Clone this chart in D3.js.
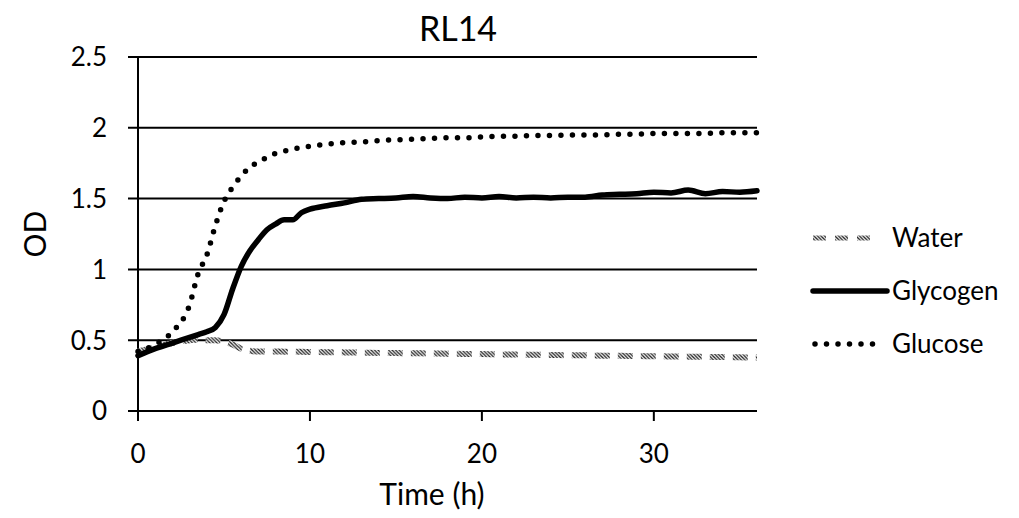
<!DOCTYPE html>
<meta charset="utf-8" />
<title>RL14</title>
<style>
  body { margin: 0; background: #fff; }
  svg { display: block; }
  text { font-family: Lato, "Open Sans", sans-serif; fill: #000; }
</style>
<body>
<svg width="1019" height="518"></svg>
<script src="https://d3js.org/d3.v7.min.js"></script>
<script>
  // sampling times (h)
  const hours = [0, 1, 2, 3, 3.5, 4, 4.5, 5, 5.5, 6, 6.5, 7, 7.5, 8, 8.5, 9, 9.5, 10,
    11, 12, 13, 14, 15, 16, 17, 18, 19, 20, 21, 22, 23, 24, 25, 26, 27, 28, 29, 30,
    31, 32, 33, 34, 35, 36];

  const water = [0.42, 0.45, 0.48, 0.50, 0.505, 0.50, 0.50, 0.49, 0.47, 0.44, 0.425, 0.42, 0.42, 0.42, 0.419, 0.418, 0.418, 0.417,
    0.415, 0.414, 0.412, 0.41, 0.409, 0.408, 0.406, 0.405, 0.403, 0.402, 0.40, 0.399, 0.397, 0.396, 0.394, 0.393, 0.391, 0.39, 0.388, 0.387,
    0.385, 0.384, 0.382, 0.381, 0.379, 0.378];

  const glycogen = [0.39, 0.44, 0.48, 0.52, 0.54, 0.56, 0.59, 0.68, 0.86, 1.02, 1.13, 1.21, 1.28, 1.32, 1.35, 1.35, 1.40, 1.425,
    1.45, 1.47, 1.495, 1.50, 1.505, 1.515, 1.505, 1.50, 1.51, 1.505, 1.515, 1.505, 1.51, 1.505, 1.51, 1.51, 1.525, 1.53, 1.535, 1.545,
    1.54, 1.56, 1.535, 1.55, 1.545, 1.555];

  const glucose = [0.42, 0.47, 0.56, 0.75, 0.97, 1.10, 1.31, 1.48, 1.58, 1.66, 1.72, 1.76, 1.79, 1.82, 1.835, 1.85, 1.86, 1.87,
    1.885, 1.895, 1.90, 1.91, 1.915, 1.92, 1.925, 1.93, 1.93, 1.935, 1.94, 1.94, 1.945, 1.945, 1.95, 1.95, 1.95, 1.955, 1.955, 1.96,
    1.96, 1.96, 1.96, 1.965, 1.965, 1.965];

  const seriesNames = ["Water", "Glycogen", "Glucose"];
  const yTicks = [0, 0.5, 1, 1.5, 2, 2.5];
  const xTicks = [0, 10, 20, 30];

  const svg = d3.select("svg");
  const margin = { left: 138, right: 262, top: 57, bottom: 107 };
  const W = 1019, H = 518;

  const x = d3.scaleLinear().domain([0, 36]).range([margin.left, W - margin.right]);
  const y = d3.scaleLinear().domain([0, 2.5]).range([H - margin.bottom, margin.top]);

  // hatch pattern for the water series
  const defs = svg.append("defs");
  const hatch = defs.append("pattern")
    .attr("id", "hatch")
    .attr("patternUnits", "userSpaceOnUse")
    .attr("width", 3.5).attr("height", 3.5);
  hatch.append("rect").attr("width", 3.5).attr("height", 3.5).attr("fill", "#fff");
  hatch.append("path")
    .attr("d", "M-1,-1L4.5,4.5M-1,2.5L1,4.5M2.5,-1L4.5,1")
    .attr("stroke", "#222").attr("stroke-width", 1.3);

  // gridlines
  svg.append("g")
    .selectAll("line")
    .data(yTicks)
    .join("line")
    .attr("x1", x(0) - 10).attr("x2", x(36))
    .attr("y1", d => y(d)).attr("y2", d => y(d))
    .attr("stroke", "#000").attr("stroke-width", 2);

  // y axis line
  svg.append("line")
    .attr("x1", x(0)).attr("x2", x(0))
    .attr("y1", y(2.5)).attr("y2", y(0) + 10)
    .attr("stroke", "#000").attr("stroke-width", 2);

  // x ticks
  svg.append("g")
    .selectAll("line")
    .data(xTicks)
    .join("line")
    .attr("x1", d => x(d)).attr("x2", d => x(d))
    .attr("y1", y(0)).attr("y2", y(0) + 10)
    .attr("stroke", "#000").attr("stroke-width", 2);

  svg.append("g")
    .selectAll("text")
    .data(yTicks)
    .join("text")
    .attr("x", x(0) - 31)
    .attr("y", d => y(d))
    .attr("dy", "0.36em")
    .attr("text-anchor", "end")
    .attr("font-size", 26)
    .text(d => d);

  svg.append("g")
    .selectAll("text")
    .data(xTicks)
    .join("text")
    .attr("x", d => x(d))
    .attr("y", y(0) + 52)
    .attr("text-anchor", "middle")
    .attr("font-size", 26)
    .text(d => d);

  // titles
  svg.append("text")
    .attr("x", 458).attr("y", 41)
    .attr("text-anchor", "middle")
    .attr("font-size", 34)
    .text("RL14");

  svg.append("text")
    .attr("x", 432).attr("y", 505)
    .attr("text-anchor", "middle")
    .attr("font-size", 30)
    .text("Time (h)");

  svg.append("text")
    .attr("transform", `translate(46,${(y(0) + y(2.5)) / 2}) rotate(-90)`)
    .attr("text-anchor", "middle")
    .attr("font-size", 30)
    .text("OD");

  const line = values => d3.line()
    .x((d, i) => x(hours[i]))
    .y(d => y(d))
    .curve(d3.curveMonotoneX)(values);

  const styles = {
    Water: { stroke: "url(#hatch)", width: 6, dash: "15 8", cap: "butt" },
    Glycogen: { stroke: "#000", width: 5.5, dash: null, cap: "round" },
    Glucose: { stroke: "#000", width: 5.5, dash: "0 11.5", cap: "round" }
  };
  const data = { Water: water, Glycogen: glycogen, Glucose: glucose };

  svg.append("g")
    .selectAll("path")
    .data(seriesNames)
    .join("path")
    .attr("d", d => line(data[d]))
    .attr("fill", "none")
    .attr("stroke", d => styles[d].stroke)
    .attr("stroke-width", d => styles[d].width)
    .attr("stroke-dasharray", d => styles[d].dash)
    .attr("stroke-linecap", d => styles[d].cap)
    .attr("stroke-linejoin", "round");

  // legend
  const legend = svg.append("g")
    .selectAll("g")
    .data(seriesNames)
    .join("g")
    .attr("transform", (d, i) => `translate(809,${238 + i * 53})`);

  legend.append("line")
    .attr("x1", d => d === "Glucose" ? 6 : 4)
    .attr("x2", d => d === "Glycogen" ? 78 : 68)
    .attr("stroke", d => styles[d].stroke)
    .attr("stroke-width", d => d === "Water" ? 5 : styles[d].width)
    .attr("stroke-dasharray", d => d === "Water" ? "13 9" : styles[d].dash)
    .attr("stroke-linecap", d => styles[d].cap);

  legend.append("text")
    .attr("x", 83)
    .attr("dy", "0.36em")
    .attr("font-size", 26)
    .text(d => d);
</script>
</body>
